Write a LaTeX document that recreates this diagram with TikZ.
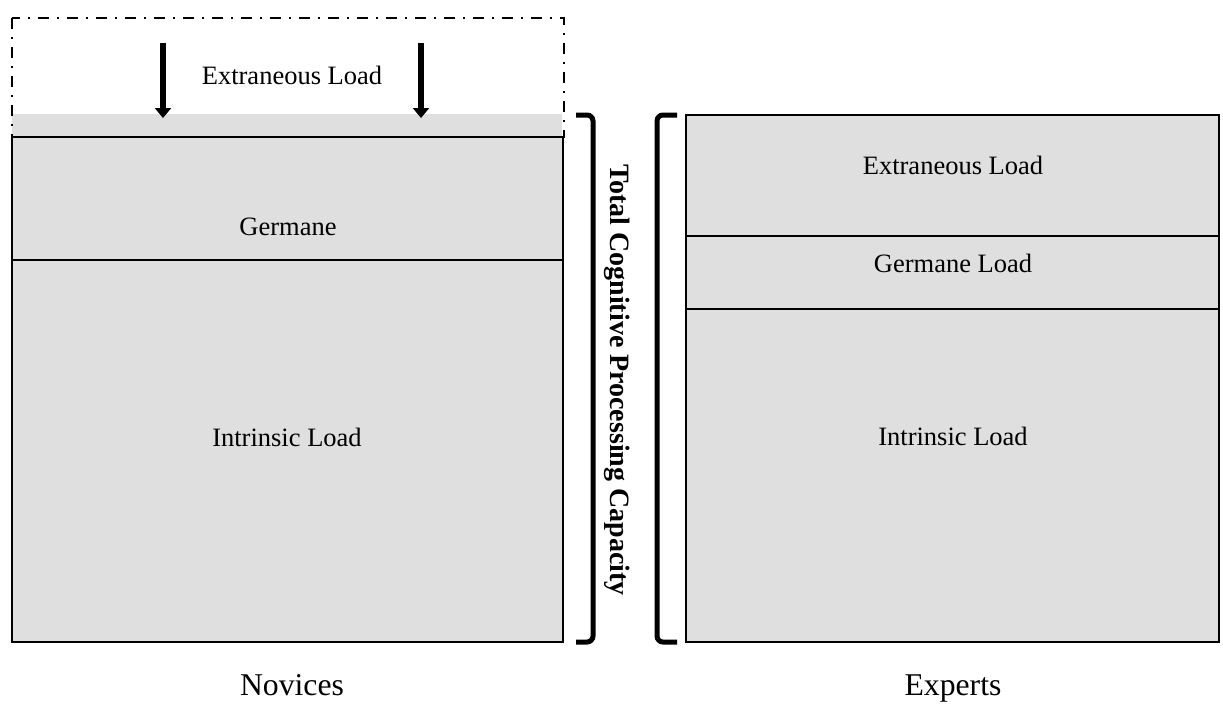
\documentclass[tikz,border=0pt]{standalone}
\usepackage{fontspec}
\setmainfont{Liberation Serif}
\usetikzlibrary{arrows.meta}
\definecolor{loadgray}{RGB}{223,223,223}
\begin{document}
\begin{tikzpicture}[x=0.5pt,y=-0.5pt,
  box/.style={draw=black, line width=1pt, fill=loadgray},
  sep/.style={draw=black, line width=1pt},
  lbl/.style={font=\fontsize{13.25}{16}\selectfont, inner sep=0pt},
  grouplbl/.style={font=\fontsize{15.85}{19}\selectfont, inner sep=0pt, anchor=base},
  capacity/.style={font=\fontsize{14}{17}\selectfont\bfseries, inner sep=0pt, rotate=-90},
  bracket/.style={line width=2.5pt, rounded corners=3pt},
  dashdot/.style={line width=1pt, dash pattern=on 5.5pt off 4pt on 1pt off 4pt},
  push/.style={line width=3pt, -{Triangle[width=8pt,length=5pt]}}]
\useasboundingbox (0,0) rectangle (1223,713);

% ---- Novices: working memory column ----
\fill[loadgray] (12,114) rectangle (562,137);
\draw[box] (12,137) rectangle (563,642);
\draw[sep] (12,260) -- (563,260);
\draw[dashdot] (12,18) rectangle (564,137);

\node[lbl] (nExt) at (292,75) {Extraneous Load};
\node[lbl] (nGer) at (288,227) {Germane};
\node[lbl] (nInt) at (287,437) {Intrinsic Load};

% extraneous load pressing down
\coordinate (a1s) at (163,43);
\coordinate (a1e) at (163,118);
\coordinate (a2s) at (421,43);
\coordinate (a2e) at (421,118);
\draw[push] (a1s) -- (a1e);
\draw[push] (a2s) -- (a2e);

% ---- Experts: working memory column ----
\draw[box] (686,115) rectangle (1219,642);
\draw[sep] (686,236) -- (1219,236);
\draw[sep] (686,309) -- (1219,309);

\node[lbl] (eExt) at (953,165) {Extraneous Load};
\node[lbl] (eGer) at (953,263) {Germane Load};
\node[lbl] (eInt) at (953,436) {Intrinsic Load};

% ---- capacity brackets and label ----
\draw[bracket] (576,115) -- (593,115) -- (593,642) -- (576,642);
\draw[bracket] (677,115) -- (657,115) -- (657,642) -- (677,642);
\node[capacity] (cap) at (617,380) {Total Cognitive Processing Capacity};

% ---- group captions ----
\node[grouplbl] (novices) at (292,695) {Novices};
\node[grouplbl] (experts) at (953,695) {Experts};
\end{tikzpicture}
\end{document}
